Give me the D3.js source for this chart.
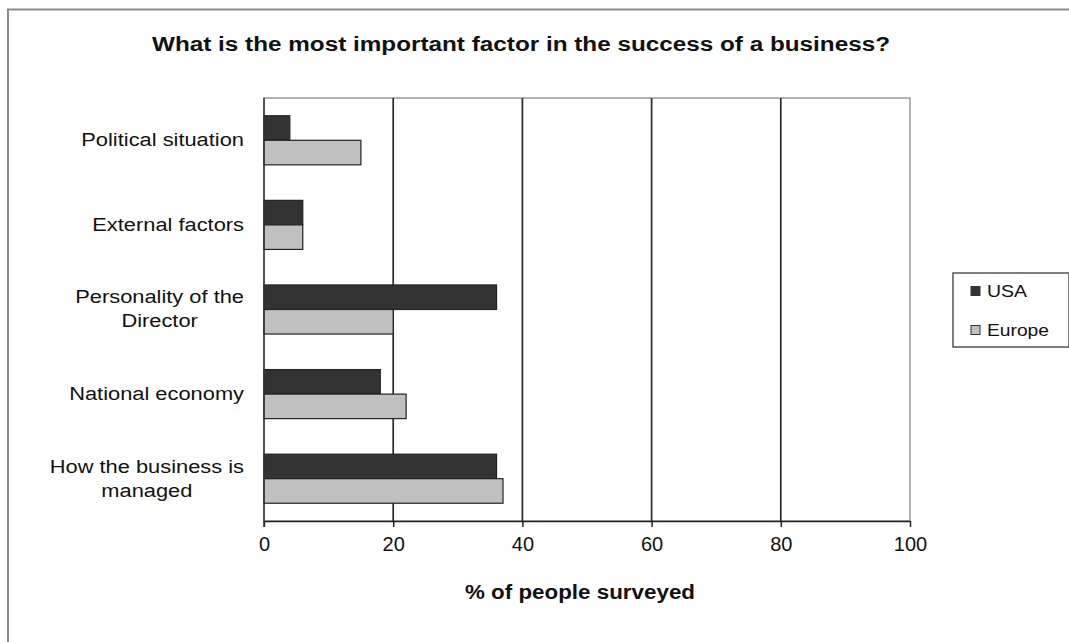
<!DOCTYPE html>
<html><head><meta charset="utf-8">
<script src="https://cdn.jsdelivr.net/npm/d3@7"></script>
<style>body{margin:0;background:#fff}svg{display:block}text{font-family:"Liberation Sans",Arial,sans-serif;fill:#111}</style>
</head><body><svg id="c" width="1069" height="642"></svg>
<script>
const categories = ["Political situation","External factors","Personality of the\nDirector","National economy","How the business is\nmanaged"];
const usa = [4, 6, 36, 18, 36];
const europe = [15, 6, 20, 22, 37];
const seriesNames = ["USA","Europe"];
const xTicks = [0,20,40,60,80,100];
const colors = {USA:"#333333", Europe:"#c0c0c0"};

const svg = d3.select("#c");
const m = {left:264, right:910, top:98, bottom:521};

// outer border
svg.append("rect").attr("x",8).attr("y",9.5).attr("width",1080).attr("height",700)
  .attr("fill","none").attr("stroke","#8a8a8a").attr("stroke-width",2);

const x = d3.scaleLinear().domain([0,100]).range([m.left,m.right]);
const y0 = d3.scaleBand().domain(categories).range([m.top,m.bottom]).paddingInner(0.42).paddingOuter(0.21);
const y1 = d3.scaleBand().domain(seriesNames).range([0,y0.bandwidth()]);

// plot border
svg.append("rect").attr("x",m.left).attr("y",m.top).attr("width",m.right-m.left).attr("height",m.bottom-m.top)
  .attr("fill","none").attr("stroke","#999").attr("stroke-width",1.5);

// gridlines
svg.append("g").selectAll("line").data(xTicks.slice(1,-1)).join("line")
  .attr("x1",d=>x(d)).attr("x2",d=>x(d)).attr("y1",m.top).attr("y2",m.bottom)
  .attr("stroke","#2a2a2a").attr("stroke-width",1.7);

// bars
const data = categories.map((c,i)=>({c, vals:[{s:"USA",v:usa[i]},{s:"Europe",v:europe[i]}]}));
const g = svg.append("g").selectAll("g").data(data).join("g")
  .attr("transform",d=>`translate(0,${y0(d.c)})`);
g.selectAll("rect").data(d=>d.vals).join("rect")
  .attr("x",x(0)).attr("y",d=>y1(d.s)).attr("width",d=>x(d.v)-x(0)).attr("height",y1.bandwidth())
  .attr("fill",d=>colors[d.s]).attr("stroke","#222").attr("stroke-width",1.2);

// x axis
const xAxis = svg.append("g").attr("transform",`translate(0,${m.bottom})`)
  .call(d3.axisBottom(x).tickValues(xTicks).tickSize(6).tickSizeOuter(0).tickPadding(10));
xAxis.select(".domain").attr("stroke","#222").attr("stroke-width",1.5);
xAxis.selectAll(".tick line").attr("stroke","#222").attr("stroke-width",1.5);
xAxis.selectAll("text").attr("font-size",20).attr("fill","#222").style("font-family","Liberation Sans, Arial, sans-serif");

// y axis line
svg.append("line").attr("x1",m.left).attr("x2",m.left).attr("y1",m.top).attr("y2",m.bottom+6)
  .attr("stroke","#333").attr("stroke-width",1.5);

// category labels
const labelRight = 244;
categories.forEach(c=>{
  const lines = c.split("\n");
  const cy = y0(c)+y0.bandwidth()/2;
  const lh = 24;
  const startY = cy - (lines.length-1)*lh/2 + 6;
  const t = svg.append("text").attr("font-size",19).attr("text-anchor","middle")
    .attr("transform",`translate(${labelRight},0) scale(1.15,1)`);
  lines.forEach((l,i)=>t.append("tspan").text(l).attr("y",startY+i*lh));
  let maxW = 0;
  t.selectAll("tspan").each(function(){maxW=Math.max(maxW,this.getComputedTextLength());});
  t.selectAll("tspan").attr("x",-maxW/2);
});

// title
svg.append("text").attr("x",521).attr("y",51).attr("text-anchor","middle")
  .attr("font-size",20).attr("font-weight","bold").attr("textLength",738).attr("lengthAdjust","spacingAndGlyphs")
  .text("What is the most important factor in the success of a business?");

// x axis title
svg.append("text").attr("x",580).attr("y",599).attr("text-anchor","middle")
  .attr("font-size",20).attr("font-weight","bold").attr("textLength",230).attr("lengthAdjust","spacingAndGlyphs")
  .text("% of people surveyed");

// legend
svg.append("rect").attr("x",953).attr("y",273).attr("width",116).attr("height",74)
  .attr("fill","#fff").attr("stroke","#555").attr("stroke-width",1.5);
const legendW = [40, 62];
seriesNames.forEach((s,i)=>{
  const yy = 291 + i*39;
  svg.append("rect").attr("x",971).attr("y",yy-4.5).attr("width",9).attr("height",9)
    .attr("fill",colors[s]).attr("stroke","#333").attr("stroke-width",1);
  svg.append("text").attr("x",987).attr("y",yy+6).attr("font-size",17)
    .attr("textLength",legendW[i]).attr("lengthAdjust","spacingAndGlyphs").text(s);
});
</script></body></html>
